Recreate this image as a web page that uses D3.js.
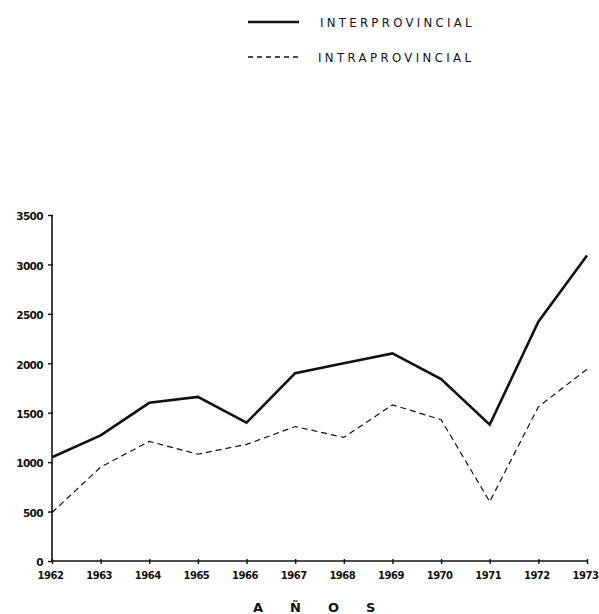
<!DOCTYPE html>
<html><head><meta charset="utf-8">
<script src="https://cdn.jsdelivr.net/npm/d3@7"></script>
<style>
html,body{margin:0;padding:0;background:#fff;}
svg{display:block;}
text{fill:#111;}
</style></head>
<body>
<svg id="c" width="599" height="614"></svg>
<script>
const years = [1962,1963,1964,1965,1966,1967,1968,1969,1970,1971,1972,1973];
const interprovincial = [1050,1270,1600,1660,1400,1900,2000,2100,1840,1380,2420,3090];
const intraprovincial = [490,950,1210,1080,1180,1360,1250,1580,1430,600,1560,1940];
const yTicks = [0,500,1000,1500,2000,2500,3000,3500];
const seriesNames = ["INTERPROVINCIAL","INTRAPROVINCIAL"];
const xTitle = "AÑOS";

const svg = d3.select("#c");
const x = d3.scaleLinear().domain([1962,1973]).range([52,587]);
const y = d3.scaleLinear().domain([0,3500]).range([561,215]);
const ink = "#111";

// Y axis
const yAxis = svg.append("g").attr("transform","translate(52,0)")
  .call(d3.axisLeft(y).tickValues(yTicks).tickSize(4).tickPadding(5).tickFormat(d3.format("d")));
yAxis.select(".domain").attr("stroke",ink).attr("stroke-width",1.6).attr("d","M0,215V562");
yAxis.selectAll(".tick line").attr("stroke",ink).attr("stroke-width",1.4).attr("x1",1);
yAxis.selectAll(".tick text").attr("font-family","DejaVu Sans").attr("font-weight","bold")
  .attr("font-size",10.5).attr("letter-spacing","-0.6").attr("dy","0.45em");

// X axis
const xAxis = svg.append("g").attr("transform","translate(0,561)")
  .call(d3.axisBottom(x).tickValues(years).tickSize(3).tickPadding(8).tickFormat(d3.format("d")));
xAxis.select(".domain").attr("stroke",ink).attr("stroke-width",1.6).attr("d","M52,0H587");
xAxis.selectAll(".tick line").attr("stroke",ink).attr("stroke-width",1.4).attr("y1",-2);
xAxis.selectAll(".tick text").attr("font-family","DejaVu Sans").attr("font-weight","bold")
  .attr("font-size",10).attr("letter-spacing","-0.5").attr("dx","-2");

// Lines
const line = d3.line().x((d,i)=>x(years[i])).y(d=>y(d));
svg.append("path").datum(interprovincial).attr("d",line)
  .attr("fill","none").attr("stroke",ink).attr("stroke-width",2.6).attr("stroke-linejoin","miter");
svg.append("path").datum(intraprovincial).attr("d",line)
  .attr("fill","none").attr("stroke",ink).attr("stroke-width",1.2).attr("stroke-dasharray","6,4");

// Legend
const lg = svg.append("g");
lg.append("line").attr("x1",248).attr("x2",299).attr("y1",22).attr("y2",22)
  .attr("stroke",ink).attr("stroke-width",2.6);
lg.append("line").attr("x1",248).attr("x2",299).attr("y1",57).attr("y2",57)
  .attr("stroke",ink).attr("stroke-width",1.3).attr("stroke-dasharray","5,4");
lg.append("text").attr("x",320).attr("y",27).text(seriesNames[0])
  .attr("font-family","DejaVu Sans Condensed").attr("font-size",13).attr("letter-spacing","3.3");
lg.append("text").attr("x",318).attr("y",62).text(seriesNames[1])
  .attr("font-family","DejaVu Sans Condensed").attr("font-size",13).attr("letter-spacing","3.4");

// X title
const tx = svg.append("text").attr("x",253).attr("y",612)
  .attr("font-family","DejaVu Sans").attr("font-weight","bold").attr("font-size",13).attr("letter-spacing","27");
tx.text(xTitle);
</script>
</body></html>
